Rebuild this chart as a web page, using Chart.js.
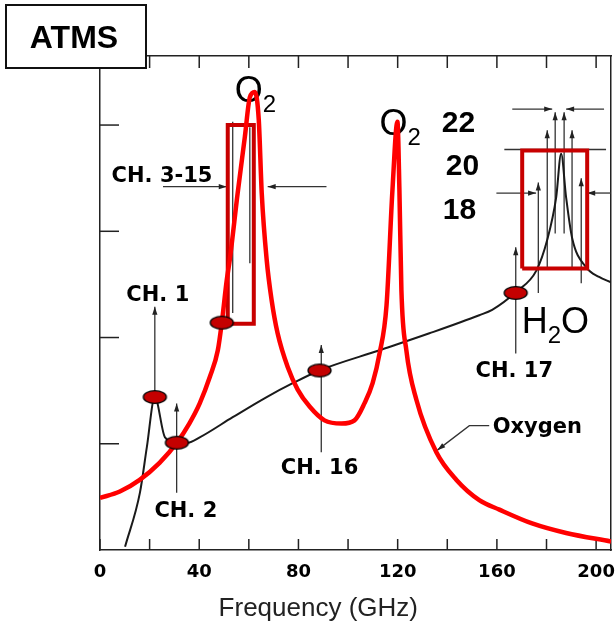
<!DOCTYPE html>
<html>
<head>
<meta charset="utf-8">
<title>ATMS</title>
<script src="https://cdn.jsdelivr.net/npm/chart.js@4.4.1/dist/chart.umd.min.js"></script>
<style>
  html, body { margin: 0; padding: 0; background: #fff; }
  #wrap { width: 616px; height: 627px; position: relative; }
</style>
</head>
<body>
<div id="wrap"><canvas id="atmsChart"></canvas></div>
<script>
// oxygen absorption (red curve), arbitrary log units
const o2Freq = [0, 8, 16, 24, 31, 36, 40.2, 44.3, 47.5, 49.1, 51.1, 52.3, 55.5, 58.4, 60.4, 62.4,
  64.0, 65.2, 67.2, 69.2, 71.6, 75.7, 79.7, 84.5, 90.5, 97.4, 102.6, 106.6, 109.9, 112.7, 115.5,
  117.9, 119.9, 120.7, 121.5, 123.5, 127.6, 135.6, 143.7, 152.9, 161, 174.2, 187.9, 206];
const o2Abs = [0.49, 0.55, 0.66, 0.82, 1.01, 1.19, 1.38, 1.63, 1.88, 2.14, 2.54, 2.73, 3.36, 3.89, 4.26, 4.31,
  4.05, 3.36, 2.73, 2.35, 2.04, 1.72, 1.51, 1.35, 1.22, 1.19, 1.22, 1.38, 1.57, 1.85, 2.30,
  3.39, 4.03, 3.39, 2.45, 1.88, 1.41, 0.92, 0.66, 0.47, 0.38, 0.25, 0.16, 0.08];

// total / water vapour (black curve)
const wvFreq = [10.1, 16.1, 18.9, 22.1, 26.2, 31.0, 35.4, 40.2, 53.5, 67.2, 77.7, 88.5, 112.7, 132.8,
  152.9, 158.1, 167.8, 175.9, 180.3, 183.9, 185.9, 187.9, 190.3, 196.0, 201.2, 206];
const wvAbs = [0.03, 0.54, 0.97, 1.44, 1.06, 1.01, 1.01, 1.06, 1.25, 1.44, 1.57, 1.69, 1.88, 2.04,
  2.21, 2.26, 2.43, 2.63, 2.92, 3.32, 3.73, 3.32, 2.94, 2.66, 2.57, 2.52];

// ATMS channel markers
const chanFreq = [22.1, 31.0, 49.1, 88.5, 167.6];
const chanAbs = [1.44, 1.01, 2.14, 1.69, 2.42];

// passbands [f1, f2, low, high]
const box315 = [51.5, 62.0, 2.13, 4.0];
const boxH2O = [170.2, 196.4, 2.65, 3.76];

const freqTickStep = 20;
const freqLabelStep = 40;

// arrows [f1, a1, f2, a2] drawn with head at the second end
const arrows = [
  [22.1, 1.44, 22.1, 2.29],
  [30.9, 0.54, 30.9, 1.38],
  [89.2, 0.92, 89.2, 1.93],
  [167.6, 1.85, 167.6, 2.85],
  [25.4, 3.42, 51.1, 3.42],
  [91.3, 3.42, 67.6, 3.42],
  [166.2, 4.15, 182.3, 4.15],
  [203.2, 4.15, 187.9, 4.15],
  [159.8, 3.36, 175.8, 3.36],
  [206.0, 3.36, 196.4, 3.36],
  [176.7, 2.42, 176.7, 3.46],
  [180.3, 2.66, 180.3, 3.95],
  [183.5, 2.98, 183.5, 4.12],
  [187.1, 2.98, 187.1, 4.12],
  [190.3, 2.66, 190.3, 3.95],
  [194.0, 2.51, 194.0, 3.50]
];
const plainLines = [
  [163.0, 3.77, 204.0, 3.77],
  [53.5, 2.23, 53.5, 4.03],
  [60.4, 2.70, 60.4, 3.98]
];
const oxygenLeader = [[156.9, 1.17], [148.9, 1.17], [136.0, 0.94]];

const notes = [
  { text: 'CH. 1', f: 23.3, a: 2.34 },
  { text: 'CH. 2', f: 34.6, a: 0.31 },
  { text: 'CH. 16', f: 88.5, a: 0.72 },
  { text: 'CH. 17', f: 167.0, a: 1.63 },
  { text: 'CH. 3-15', f: 25.0, a: 3.46 },
  { text: 'Oxygen', f: 176.3, a: 1.10 }
];
const chanNums = [
  { text: '22', f: 144.5, a: 3.93 },
  { text: '20', f: 146.1, a: 3.53 },
  { text: '18', f: 144.9, a: 3.12 }
];
const molecules = [
  { parts: ['O', '2'], f: 54.3, a: 4.22 },
  { parts: ['O', '2'], f: 112.7, a: 3.91 },
  { parts: ['H', '2', 'O'], f: 170.0, a: 2.04 }
];

const pts = (xs, ys) => xs.map((v, i) => ({ x: v, y: ys[i] }));
const boxPts = b => [
  { x: b[0], y: b[2] }, { x: b[0], y: b[3] }, { x: b[1], y: b[3] },
  { x: b[1], y: b[2] }, { x: b[0], y: b[2] }
];

function ellipseMarker() {
  const c = document.createElement('canvas');
  c.width = 27; c.height = 16;
  const g = c.getContext('2d');
  g.beginPath();
  g.ellipse(13.5, 8, 11.5, 6.3, 0, 0, Math.PI * 2);
  g.fillStyle = '#c40000';
  g.fill();
  g.lineWidth = 1.3;
  g.strokeStyle = '#000';
  g.stroke();
  return c;
}

function head(ctx, x1, y1, x2, y2) {
  const ang = Math.atan2(y2 - y1, x2 - x1);
  ctx.beginPath();
  ctx.moveTo(x2, y2);
  ctx.lineTo(x2 - 8 * Math.cos(ang) + 2.6 * Math.sin(ang), y2 - 8 * Math.sin(ang) - 2.6 * Math.cos(ang));
  ctx.lineTo(x2 - 8 * Math.cos(ang) - 2.6 * Math.sin(ang), y2 - 8 * Math.sin(ang) + 2.6 * Math.cos(ang));
  ctx.closePath();
  ctx.fill();
}

const decor = {
  id: 'decor',
  beforeDatasetsDraw(chart) {
    const { ctx, chartArea: a, scales: { x, y } } = chart;
    ctx.save();
    // inward ticks
    ctx.strokeStyle = '#222';
    ctx.lineWidth = 1.5;
    x.ticks.forEach(t => {
      const px = x.getPixelForValue(t.value);
      ctx.beginPath();
      ctx.moveTo(px, a.bottom); ctx.lineTo(px, a.bottom - 11);
      if (t.value > 0) { ctx.moveTo(px, a.top); ctx.lineTo(px, a.top + 12); }
      ctx.stroke();
    });
    y.ticks.forEach(t => {
      if (t.value === 0) return;
      const py = y.getPixelForValue(t.value);
      ctx.beginPath();
      ctx.moveTo(a.left, py); ctx.lineTo(a.left + 19, py);
      ctx.stroke();
    });

    // arrows and guide lines
    ctx.strokeStyle = '#333';
    ctx.fillStyle = '#222';
    ctx.lineWidth = 1.3;
    plainLines.forEach(l => {
      ctx.beginPath();
      ctx.moveTo(x.getPixelForValue(l[0]), y.getPixelForValue(l[1]));
      ctx.lineTo(x.getPixelForValue(l[2]), y.getPixelForValue(l[3]));
      ctx.stroke();
    });
    arrows.forEach(l => {
      const x1 = x.getPixelForValue(l[0]), y1 = y.getPixelForValue(l[1]);
      const x2 = x.getPixelForValue(l[2]), y2 = y.getPixelForValue(l[3]);
      ctx.beginPath();
      ctx.moveTo(x1, y1); ctx.lineTo(x2, y2);
      ctx.stroke();
      head(ctx, x1, y1, x2, y2);
    });
    ctx.beginPath();
    oxygenLeader.forEach((p, i) => {
      const px = x.getPixelForValue(p[0]), py = y.getPixelForValue(p[1]);
      if (i === 0) ctx.moveTo(px, py); else ctx.lineTo(px, py);
    });
    ctx.stroke();
    const n = oxygenLeader.length;
    head(ctx, x.getPixelForValue(oxygenLeader[n - 2][0]), y.getPixelForValue(oxygenLeader[n - 2][1]),
      x.getPixelForValue(oxygenLeader[n - 1][0]), y.getPixelForValue(oxygenLeader[n - 1][1]));

    // labels
    ctx.fillStyle = '#000';
    ctx.textAlign = 'center';
    ctx.textBaseline = 'alphabetic';
    ctx.font = 'bold 21px "DejaVu Sans"';
    notes.forEach(nt => ctx.fillText(nt.text, x.getPixelForValue(nt.f), y.getPixelForValue(nt.a)));
    ctx.font = 'bold 30px "Liberation Sans"';
    chanNums.forEach(nt => ctx.fillText(nt.text, x.getPixelForValue(nt.f), y.getPixelForValue(nt.a)));

    ctx.textAlign = 'left';
    molecules.forEach(m => {
      let px = x.getPixelForValue(m.f);
      const py = y.getPixelForValue(m.a);
      m.parts.forEach(p => {
        const sub = /\d/.test(p);
        ctx.font = (sub ? '24px' : '36px') + ' "Liberation Sans"';
        ctx.fillText(p, px, py + (sub ? 10 : 0));
        px += ctx.measureText(p).width;
      });
    });
    ctx.restore();
  },
  afterDraw(chart) {
    const { ctx, scales: { x } } = chart;
    ctx.save();
    // ATMS tag
    ctx.fillStyle = '#fff';
    ctx.fillRect(6, 5, 140, 63);
    ctx.strokeStyle = '#111';
    ctx.lineWidth = 2;
    ctx.strokeRect(6, 5, 140, 63);
    ctx.fillStyle = '#000';
    ctx.textAlign = 'center';
    ctx.textBaseline = 'alphabetic';
    ctx.font = 'bold 32px "Liberation Sans"';
    ctx.fillText('ATMS', 74, 48);
    // axis title
    ctx.font = '26px "Liberation Sans"';
    ctx.fillStyle = '#222';
    ctx.fillText('Frequency (GHz)', x.getPixelForValue(88), 616);
    ctx.restore();
  }
};

const axisBorder = { display: true, color: '#222', width: 1.5 };
const hidden = { display: false };

new Chart(document.getElementById('atmsChart'), {
  type: 'line',
  data: {
    datasets: [
      {
        label: 'Channels',
        data: pts(chanFreq, chanAbs),
        showLine: false,
        pointStyle: ellipseMarker(),
        order: 0
      },
      {
        label: 'Oxygen',
        data: pts(o2Freq, o2Abs),
        borderColor: '#ff0000',
        borderWidth: 4.5,
        pointRadius: 0,
        cubicInterpolationMode: 'monotone',
        order: 1
      },
      {
        label: 'CH 3-15',
        data: boxPts(box315),
        borderColor: '#c80000',
        borderWidth: 4,
        borderJoinStyle: 'miter',
        pointRadius: 0,
        order: 2
      },
      {
        label: 'CH 18-22',
        data: boxPts(boxH2O),
        borderColor: '#c80000',
        borderWidth: 4,
        borderJoinStyle: 'miter',
        pointRadius: 0,
        order: 2
      },
      {
        label: 'Water vapour',
        data: pts(wvFreq, wvAbs),
        borderColor: '#1a1a1a',
        borderWidth: 2,
        pointRadius: 0,
        cubicInterpolationMode: 'monotone',
        order: 3
      }
    ]
  },
  options: {
    responsive: true,
    maintainAspectRatio: false,
    animation: false,
    layout: { padding: { left: 100, right: 4, top: 56, bottom: 0 } },
    plugins: { legend: hidden, tooltip: { enabled: false } },
    scales: {
      x: {
        type: 'linear', position: 'bottom', min: 0, max: 206,
        afterFit: s => { s.height = 77; s.paddingLeft = 0; s.paddingRight = 0; },
        grid: { display: false, drawTicks: false },
        border: axisBorder,
        ticks: {
          stepSize: freqTickStep, includeBounds: false, autoSkip: false, maxRotation: 0,
          padding: 12, color: '#000',
          font: { family: 'DejaVu Sans', weight: 'bold', size: 18 },
          callback: v => (v % freqLabelStep === 0 ? String(v) : '')
        }
      },
      y: {
        type: 'linear', min: 0, max: 4.65,
        afterFit: s => { s.width = 0; },
        grid: { display: false, drawTicks: false },
        border: axisBorder,
        ticks: { display: false, stepSize: 1, includeBounds: false }
      },
      xTop: {
        type: 'linear', position: 'top', min: 0, max: 206,
        afterFit: s => { s.height = 0; },
        grid: { display: false, drawTicks: false },
        border: axisBorder,
        ticks: { display: false }
      },
      yRight: {
        type: 'linear', position: 'right', min: 0, max: 4.65,
        afterFit: s => { s.width = 0; },
        grid: { display: false, drawTicks: false },
        border: axisBorder,
        ticks: { display: false }
      }
    }
  },
  plugins: [decor]
});
</script>
</body>
</html>
